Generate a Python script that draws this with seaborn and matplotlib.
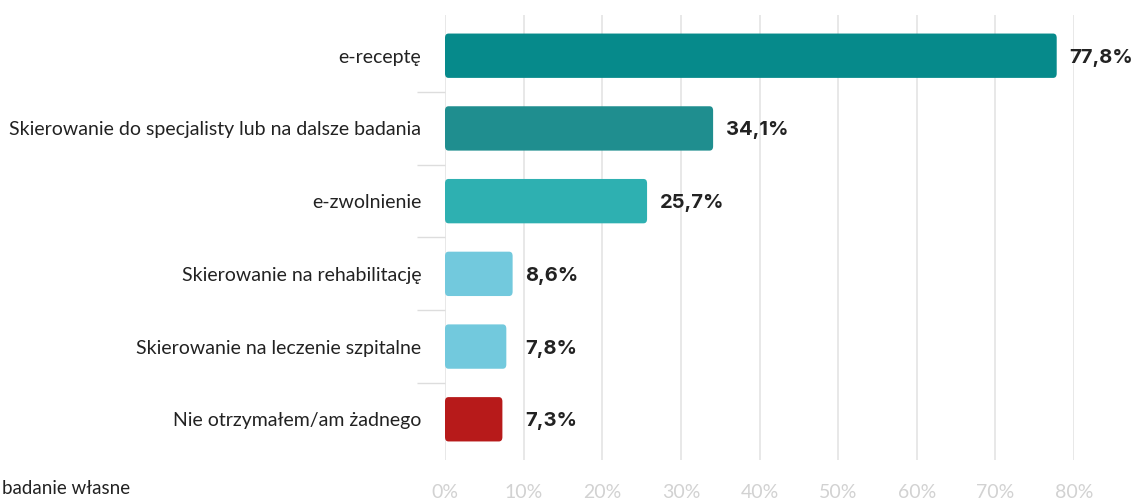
import matplotlib
matplotlib.use("Agg")
import matplotlib.pyplot as plt
import seaborn as sns
import pandas as pd
from matplotlib.patches import FancyBboxPatch
from matplotlib.ticker import FixedLocator
from matplotlib.transforms import offset_copy

categories = [
    "e-receptę",
    "Skierowanie do specjalisty lub na dalsze badania",
    "e-zwolnienie",
    "Skierowanie na rehabilitację",
    "Skierowanie na leczenie szpitalne",
    "Nie otrzymałem/am żadnego",
]
values = [77.8, 34.1, 25.7, 8.6, 7.8, 7.3]
value_labels = ["77,8%", "34,1%", "25,7%", "8,6%", "7,8%", "7,3%"]
colors = ["#068A8B", "#1F8E8F", "#2EB0B1", "#72C9DD", "#72C9DD", "#B71A1A"]
xticks = [0, 10, 20, 30, 40, 50, 60, 70, 80]
xtick_labels = ["0%", "10%", "20%", "30%", "40%", "50%", "60%", "70%", "80%"]
source = "badanie własne"

sns.set_theme(style="white")
plt.rcParams["font.family"] = ["Lato", "DejaVu Sans"]

df = pd.DataFrame({"cat": categories, "val": values})

fig = plt.figure(figsize=(11.34, 4.99), dpi=100)
ax = fig.add_axes([445 / 1134, 1 - 460 / 499, (1074 - 445) / 1134, (460 - 15) / 499])

sns.barplot(data=df, x="val", y="cat", hue="cat", palette=colors, legend=False,
            width=0.61, saturation=1, ax=ax, zorder=3)

# rounded bars
for p in list(ax.patches):
    x0, y0 = p.get_x(), p.get_y()
    w, h = p.get_width(), p.get_height()
    fc = p.get_facecolor()
    p.remove()
    fb = FancyBboxPatch((x0, y0), w, h,
                        boxstyle="round,pad=0,rounding_size=0.45",
                        mutation_aspect=0.06 / 0.45,
                        facecolor=fc, edgecolor="none", zorder=3)
    ax.add_patch(fb)

ax.set_xlim(0, 80)
ax.set_ylim(5.56, -0.56)
ax.set_xticks(xticks)
ax.set_xticklabels(xtick_labels, fontsize=14, color="#D2D2D2")
ax.tick_params(axis="x", length=0, pad=17)
ax.grid(axis="x", color="#E2E2E2", linewidth=1.1, zorder=0)
ax.grid(axis="y", visible=False)

ax.set_yticks(range(len(categories)))
ax.set_yticklabels(categories, fontsize=14, color="#222222")
ax.tick_params(axis="y", length=0, pad=17)
ax.yaxis.set_minor_locator(FixedLocator([0.5, 1.5, 2.5, 3.5, 4.5]))
ax.tick_params(axis="y", which="minor", length=20, width=1, color="#DDDDDD", left=True)

for s in ax.spines.values():
    s.set_visible(False)
ax.set_xlabel("")
ax.set_ylabel("")

# value labels
for i, (v, lab) in enumerate(zip(values, value_labels)):
    xpos = max(v, 8.6)
    tr = offset_copy(ax.transData, fig=fig, x=13, y=-2, units="dots")
    ax.text(xpos, i, lab, transform=tr, ha="left", va="center",
            fontsize=14.5, fontweight="bold", color="#222222",
            family=["Inter", "DejaVu Sans"])

fig.text(2 / 1134, 1 - 488 / 499, source, ha="left", va="center",
         fontsize=13.5, color="#222222")

fig.savefig("out.png", dpi=100)
